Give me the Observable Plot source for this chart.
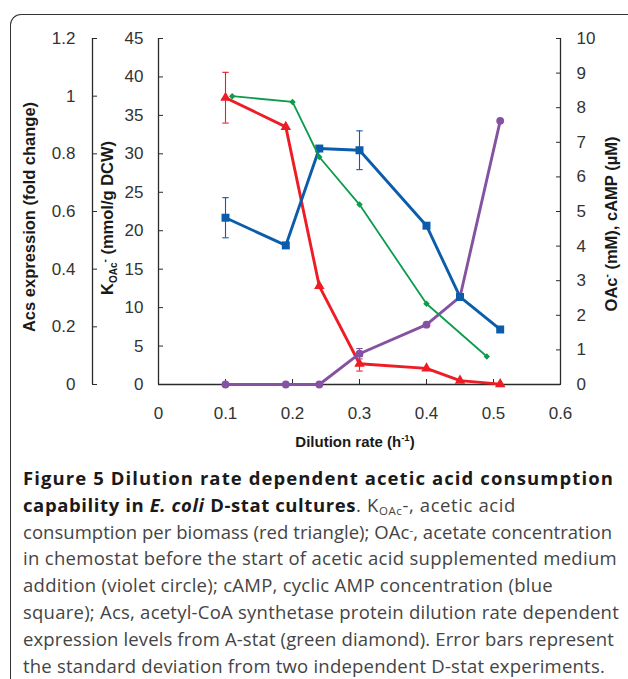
<!DOCTYPE html>
<html>
<head>
<meta charset="utf-8">
<script src="https://cdn.jsdelivr.net/npm/d3@7"></script>
<script src="https://cdn.jsdelivr.net/npm/@observablehq/plot@0.6"></script>
<style>
  html, body { margin: 0; padding: 0; background: #fff; overflow: hidden; }
  body { width: 628px; height: 679px; position: relative; }
  #chart { position: absolute; left: 0; top: 0; }
  #frame { position: absolute; left: 10px; top: 14px; width: 640px; height: 700px;
           border-top: 1.3px solid #333; border-left: 1.3px solid #333;
           border-top-left-radius: 11px; pointer-events: none; }
  #caption { position: absolute; left: 23px; top: 465px; white-space: nowrap;
             font-family: "Open Sans", sans-serif; font-size: 18.5px; line-height: 26.8px;
             color: #444; }
  #caption .ln { display: block; height: 26.8px; }
  #caption .ln > span { display: inline-block; }
  #caption b { color: #1a1a1a; font-weight: 700; }
  #caption sub { font-size: 0.62em; vertical-align: -0.25em; line-height: 0; }
  #caption sup { font-size: 0.62em; vertical-align: 0.45em; line-height: 0; }
</style>
</head>
<body>
<div id="chart"></div>
<div id="frame"></div>
<div id="caption">
<div class="ln" data-end="614"><span><b>Figure 5 Dilution rate dependent acetic acid consumption</b></span></div>
<div class="ln" data-end="516"><span><b>capability in <i>E. coli</i> D-stat cultures</b>. K<sub>OAc</sub>-, acetic acid</span></div>
<div class="ln" data-end="612"><span>consumption per biomass (red triangle); OAc<sup>-</sup>, acetate concentration</span></div>
<div class="ln" data-end="617"><span>in chemostat before the start of acetic acid supplemented medium</span></div>
<div class="ln" data-end="553"><span>addition (violet circle); cAMP, cyclic AMP concentration (blue</span></div>
<div class="ln" data-end="619"><span>square); Acs, acetyl-CoA synthetase protein dilution rate dependent</span></div>
<div class="ln" data-end="614"><span>expression levels from A-stat (green diamond). Error bars represent</span></div>
<div class="ln" data-end="605"><span>the standard deviation from two independent D-stat experiments.</span></div>
</div>
<script>
// ---- data ----
const dilution = [0.1, 0.19, 0.24, 0.3, 0.4, 0.45, 0.51];
const kOAc     = [37.3, 33.5, 12.8, 2.7, 2.1, 0.5, 0.05];      // mmol/g DCW (left axis)
const kOAcErr  = [3.3, null, null, 0.95, null, null, null];
const cAMP     = [4.82, 4.02, 6.82, 6.77, 4.59, 2.53, 1.59];   // µM (right axis)
const cAMPErr  = [0.58, null, null, 0.56, null, null, null];
const OAc      = [0, 0, 0, 0.89, 1.73, 2.53, 7.62];            // mM (right axis)
const OAcErr   = [null, null, null, 0.15, null, null, null];
const acsDilution = [0.11, 0.2, 0.24, 0.3, 0.4, 0.49];
const acs         = [1.0, 0.98, 0.789, 0.624, 0.28, 0.097];    // fold change (outer axis)

const xTicks = [0, 0.1, 0.2, 0.3, 0.4, 0.5, 0.6];
const xTickLabels = ["0", "0.1", "0.2", "0.3", "0.4", "0.5", "0.6"];
const kTicks = [0, 5, 10, 15, 20, 25, 30, 35, 40, 45];
const rightTicks = [0, 1, 2, 3, 4, 5, 6, 7, 8, 9, 10];
const acsTicks = [0, 0.2, 0.4, 0.6, 0.8, 1.0, 1.2];
const acsTickLabels = ["0", "0.2", "0.4", "0.6", "0.8", "1", "1.2"];

// secondary axes mapped onto the primary y scale (0–45)
const rightFactor = 45 / 10;
const acsFactor = 45 / 1.2;

const red = "#ee1c25", blue = "#0b5cab", green = "#0c9c4b", purple = "#8552a1";
const axisColor = "#2b2b2b";
const tickFont = 17;

const main = dilution.map((x, i) => ({x, k: kOAc[i], kE: kOAcErr[i], c: cAMP[i], cE: cAMPErr[i], o: OAc[i], oE: OAcErr[i]}));
const acsData = acsDilution.map((x, i) => ({x, a: acs[i]}));

const capSymbol = {
  draw(context, size) {
    const w = 3.2;
    context.moveTo(-w, 0);
    context.lineTo(w, 0);
  }
};

function errorMarks(key, errKey, factor, color) {
  const d = main.filter(r => r[errKey] != null);
  return [
    Plot.ruleX(d, {x: "x", y1: r => (r[key] - r[errKey]) * factor, y2: r => (r[key] + r[errKey]) * factor, stroke: color, strokeWidth: 1.1}),
    Plot.dot(d, {x: "x", y: r => (r[key] - r[errKey]) * factor, symbol: capSymbol, stroke: color, strokeWidth: 1.1, r: 3}),
    Plot.dot(d, {x: "x", y: r => (r[key] + r[errKey]) * factor, symbol: capSymbol, stroke: color, strokeWidth: 1.1, r: 3})
  ];
}

const svg = Plot.plot({
  width: 628,
  height: 460,
  marginLeft: 158,
  marginRight: 68,
  marginTop: 38,
  marginBottom: 76,
  style: {background: "transparent", fontFamily: "'Liberation Sans', Arial, sans-serif", fontSize: "17px", color: "#333", overflow: "visible"},
  x: {domain: [0, 0.6]},
  y: {domain: [0, 45]},
  marks: [
    // axis lines
    Plot.ruleY([0], {stroke: axisColor, strokeWidth: 1.3}),
    Plot.ruleX([0], {stroke: axisColor, strokeWidth: 1.3}),
    Plot.ruleX([0.6], {stroke: axisColor, strokeWidth: 1.3}),
    Plot.ruleX([0], {stroke: axisColor, strokeWidth: 1.3, dx: -66}),
    // axes
    Plot.axisX({ticks: xTicks, tickFormat: d => xTickLabels[Math.round(d * 10)], tickSize: -5, tickPadding: 27, label: null, stroke: axisColor, fill: "#333", fontSize: tickFont}),
    Plot.axisY({anchor: "left", ticks: kTicks, tickFormat: d => String(d), tickSize: -5, tickPadding: 20, label: null, stroke: axisColor, fill: "#333", fontSize: tickFont}),
    Plot.axisY({anchor: "right", ticks: rightTicks.map(v => v * rightFactor), tickFormat: d => String(Math.round(d / rightFactor)), tickSize: -5, tickPadding: 21, label: null, stroke: axisColor, fill: "#333", fontSize: tickFont}),
    Plot.axisY({anchor: "left", ticks: acsTicks.map(v => v * acsFactor), tickFormat: d => acsTickLabels[Math.round(d / (0.2 * acsFactor))], tickSize: -5, tickPadding: 22, dx: -66, label: null, stroke: axisColor, fill: "#333", fontSize: tickFont}),
    // K_OAc- (red triangles)
    Plot.line(main, {x: "x", y: "k", stroke: red, strokeWidth: 2.9}),
    ...errorMarks("k", "kE", 1, red),
    Plot.dot(main, {x: "x", y: "k", symbol: "triangle", r: 3.9, fill: red}),
    // OAc- (violet circles)
    Plot.line(main, {x: "x", y: d => d.o * rightFactor, stroke: purple, strokeWidth: 2.9}),
    ...errorMarks("o", "oE", rightFactor, purple),
    Plot.dot(main, {x: "x", y: d => d.o * rightFactor, symbol: "circle", r: 3.9, fill: purple}),
    // cAMP (blue squares)
    Plot.line(main, {x: "x", y: d => d.c * rightFactor, stroke: blue, strokeWidth: 2.9}),
    ...errorMarks("c", "cE", rightFactor, blue),
    Plot.dot(main, {x: "x", y: d => d.c * rightFactor, symbol: "square", r: 4.5, fill: blue}),
    // Acs (green diamonds)
    Plot.line(acsData, {x: "x", y: d => d.a * acsFactor, stroke: green, strokeWidth: 1.8}),
    Plot.dot(acsData, {x: "x", y: d => d.a * acsFactor, symbol: "diamond2", r: 2.9, fill: green})
  ]
});

// axis titles with sub/superscripts
const s = d3.select(svg);
const titleFont = "'Liberation Sans', Arial, sans-serif";
function title(x, y, rot) {
  return s.append("text")
    .attr("transform", `translate(${x},${y}) rotate(${rot})`)
    .attr("text-anchor", "middle")
    .attr("font-family", titleFont)
    .attr("font-weight", "bold")
    .attr("font-size", 16.5)
    .attr("fill", "#1a1a1a");
}
title(35, 217, -90).text("Acs expression (fold change)");

const kt = title(113, 218, -90);
kt.append("tspan").text("K");
kt.append("tspan").attr("font-size", 10).attr("dy", 4).text("OAc");
kt.append("tspan").attr("font-size", 10).attr("dy", -9).text("-");
kt.append("tspan").attr("dy", 5).text(" (mmol/g DCW)");

const rt = title(617, 224, -90);
rt.append("tspan").text("OAc");
rt.append("tspan").attr("font-size", 10).attr("dy", -7).text("-");
rt.append("tspan").attr("dy", 7).text(" (mM), cAMP (\u00B5M)");

const xt = s.append("text")
  .attr("x", 355).attr("y", 447)
  .attr("text-anchor", "middle")
  .attr("font-family", titleFont)
  .attr("font-weight", "bold")
  .attr("font-size", 15)
  .attr("fill", "#1a1a1a");
xt.append("tspan").text("Dilution rate (h");
xt.append("tspan").attr("font-size", 9.5).attr("dy", -6).text("-1");
xt.append("tspan").attr("dy", 6).text(")");

document.getElementById("chart").appendChild(svg);

// fit caption lines to the widths seen in the reference (layout only)
document.querySelectorAll("#caption .ln").forEach(ln => {
  const span = ln.firstElementChild;
  const left = document.getElementById("caption").getBoundingClientRect().left;
  const target = +ln.dataset.end - left;
  const w = span.getBoundingClientRect().width;
  const n = span.textContent.length;
  span.style.letterSpacing = ((target - w) / n).toFixed(3) + "px";
});
</script>
</body>
</html>
